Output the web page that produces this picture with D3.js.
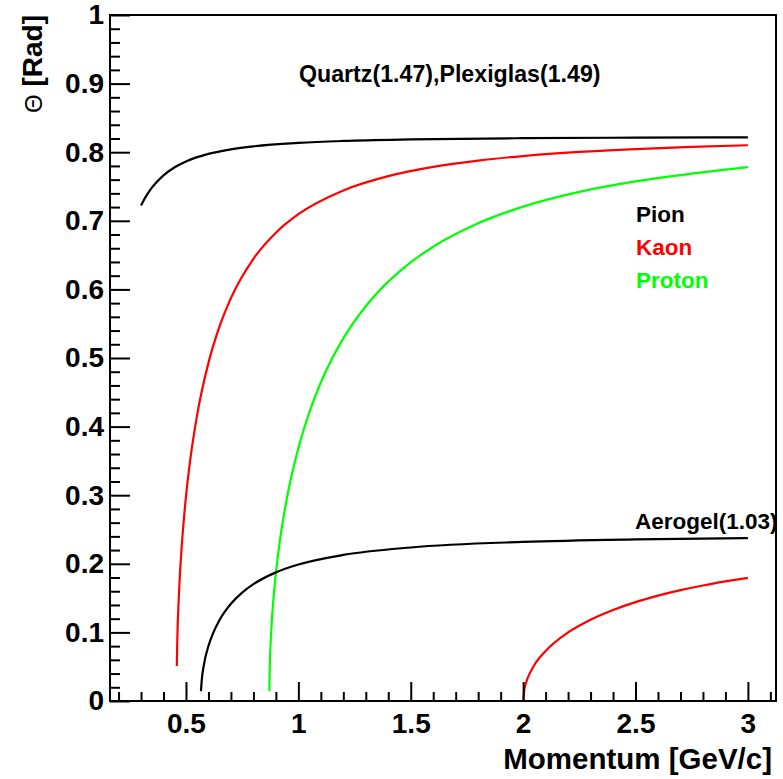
<!DOCTYPE html>
<html>
<head>
<meta charset="utf-8">
<script src="https://cdn.jsdelivr.net/npm/d3@7"></script>
<style>
  html, body { margin: 0; padding: 0; background: #fff; }
  svg { display: block; font-family: "Liberation Sans", Arial, Helvetica, sans-serif; font-weight: bold; }
</style>
</head>
<body>
<svg id="chart" width="783" height="779"></svg>
<script>
// Cherenkov angle (rad) versus momentum (GeV/c)
// Quartz / Plexiglas radiator (n ~ 1.47)
const pionQuartzP      = [0.3, 0.32, 0.35, 0.4, 0.45, 0.5, 0.6, 0.7, 0.8, 1.0, 1.2, 1.5, 2.0, 2.5, 3.0];
const pionQuartzTheta  = [0.7223, 0.7345, 0.7490, 0.7663, 0.7781, 0.7866, 0.7976, 0.8042, 0.8086, 0.8136, 0.8164, 0.8186, 0.8204, 0.8212, 0.8217];

const kaonQuartzP      = [0.4593, 0.46, 0.47, 0.48, 0.49, 0.5, 0.52, 0.55, 0.6, 0.65, 0.7, 0.8, 0.9, 1.0, 1.2, 1.4, 1.6, 1.8, 2.0, 2.25, 2.5, 2.75, 3.0];
const kaonQuartzTheta  = [0.0509, 0.0650, 0.1640, 0.2202, 0.2628, 0.2978, 0.3540, 0.4175, 0.4929, 0.5467, 0.5873, 0.6446, 0.6827, 0.7096, 0.7443, 0.7651, 0.7786, 0.7878, 0.7944, 0.8004, 0.8046, 0.8077, 0.8101];

const protonQuartzP     = [0.871, 0.872, 0.875, 0.88, 0.89, 0.9, 0.92, 0.95, 1.0, 1.05, 1.1, 1.2, 1.3, 1.4, 1.5, 1.6, 1.8, 2.0, 2.25, 2.5, 2.75, 3.0];
const protonQuartzTheta = [0.0146, 0.0380, 0.0716, 0.1058, 0.1519, 0.1862, 0.2387, 0.2973, 0.3686, 0.4219, 0.4643, 0.5286, 0.5755, 0.6113, 0.6395, 0.6622, 0.6964, 0.7206, 0.7421, 0.7574, 0.7688, 0.7782];

// Aerogel radiator (n = 1.03)
const pionAerogelP      = [0.5666, 0.57, 0.58, 0.6, 0.62, 0.65, 0.7, 0.75, 0.8, 0.9, 1.0, 1.2, 1.5, 2.0, 2.5, 3.0];
const pionAerogelTheta  = [0.0144, 0.0298, 0.0531, 0.0801, 0.0983, 0.1184, 0.1417, 0.1580, 0.1703, 0.1875, 0.1989, 0.2129, 0.2238, 0.2319, 0.2356, 0.2375];

const kaonAerogelP      = [2.0005, 2.005, 2.01, 2.02, 2.05, 2.1, 2.2, 2.3, 2.4, 2.5, 2.6, 2.7, 2.8, 2.9, 3.0];
const kaonAerogelTheta  = [0.0, 0.0161, 0.0233, 0.0332, 0.0524, 0.0729, 0.0999, 0.1185, 0.1327, 0.1442, 0.1536, 0.1616, 0.1684, 0.1743, 0.1796];

// Axis ticks
const xMajorTicks = [0.5, 1, 1.5, 2, 2.5, 3];
const xTickLabels = ["0.5", "1", "1.5", "2", "2.5", "3"];
const xMinorTicks = [0.2, 0.3, 0.4, 0.6, 0.7, 0.8, 0.9, 1.1, 1.2, 1.3, 1.4, 1.6, 1.7, 1.8, 1.9, 2.1, 2.2, 2.3, 2.4, 2.6, 2.7, 2.8, 2.9, 3.1];
const yMajorTicks = [0, 0.1, 0.2, 0.3, 0.4, 0.5, 0.6, 0.7, 0.8, 0.9, 1];
const yTickLabels = ["0", "0.1", "0.2", "0.3", "0.4", "0.5", "0.6", "0.7", "0.8", "0.9", "1"];
const yMinorTicks = [0.02, 0.04, 0.06, 0.08, 0.12, 0.14, 0.16, 0.18, 0.22, 0.24, 0.26, 0.28,
                     0.32, 0.34, 0.36, 0.38, 0.42, 0.44, 0.46, 0.48, 0.52, 0.54, 0.56, 0.58,
                     0.62, 0.64, 0.66, 0.68, 0.72, 0.74, 0.76, 0.78, 0.82, 0.84, 0.86, 0.88,
                     0.92, 0.94, 0.96, 0.98];

const curves = [
  { p: pionQuartzP,   t: pionQuartzTheta,   color: "#000000" },
  { p: kaonQuartzP,   t: kaonQuartzTheta,   color: "#ff0000" },
  { p: protonQuartzP, t: protonQuartzTheta, color: "#00ff00" },
  { p: pionAerogelP,  t: pionAerogelTheta,  color: "#000000" },
  { p: kaonAerogelP,  t: kaonAerogelTheta,  color: "#ff0000" }
];

const svg = d3.select("#chart");
const frame = { left: 110, right: 776, top: 15, bottom: 701 };

const x = d3.scaleLinear().domain([0.162, 3.125]).range([frame.left, frame.right]);
const y = d3.scaleLinear().domain([0, 1]).range([frame.bottom, frame.top]);

// Curves
const line = d3.line()
  .x(d => x(d[0]))
  .y(d => y(d[1]))
  .curve(d3.curveMonotoneX);

svg.append("g").selectAll("path")
  .data(curves)
  .join("path")
  .attr("d", c => line(c.p.map((p, i) => [p, c.t[i]])))
  .attr("fill", "none")
  .attr("stroke", c => c.color)
  .attr("stroke-width", 2.2);

// Axes with ticks pointing into the frame
function styleAxis(g) {
  g.select(".domain").remove();
  g.selectAll(".tick line").attr("stroke", "#000").attr("stroke-width", 2);
  g.selectAll(".tick text")
    .attr("fill", "#000")
    .style("font-family", "'Liberation Sans', Arial, Helvetica, sans-serif")
    .style("font-weight", "bold")
    .style("font-size", "28px");
}

svg.append("g")
  .attr("transform", `translate(0,${frame.bottom})`)
  .call(d3.axisBottom(x).tickValues(xMinorTicks).tickSize(-9).tickFormat(""))
  .call(styleAxis);

svg.append("g")
  .attr("transform", `translate(0,${frame.bottom})`)
  .call(d3.axisBottom(x).tickValues(xMajorTicks).tickSize(-19).tickPadding(12)
        .tickFormat((d, i) => xTickLabels[i]))
  .call(styleAxis);

svg.append("g")
  .attr("transform", `translate(${frame.left},0)`)
  .call(d3.axisLeft(y).tickValues(yMinorTicks).tickSize(-10).tickFormat(""))
  .call(styleAxis);

svg.append("g")
  .attr("transform", `translate(${frame.left},0)`)
  .call(d3.axisLeft(y).tickValues(yMajorTicks).tickSize(-20).tickPadding(6)
        .tickFormat((d, i) => yTickLabels[i]))
  .call(styleAxis);

// Frame
svg.append("rect")
  .attr("x", frame.left).attr("y", frame.top)
  .attr("width", frame.right - frame.left)
  .attr("height", frame.bottom - frame.top)
  .attr("fill", "none")
  .attr("stroke", "#000")
  .attr("stroke-width", 2);

// Axis titles
svg.append("text")
  .attr("x", 772).attr("y", 769)
  .attr("text-anchor", "end")
  .style("font-size", "29.5px")
  .text("Momentum [GeV/c]");

const yTitle = svg.append("text")
  .attr("transform", "translate(42,15) rotate(-90)")
  .attr("text-anchor", "end")
  .style("font-size", "28px");
yTitle.append("tspan").style("font-weight", "normal").style("font-size", "24px").text("Θ");
yTitle.append("tspan").text(" [Rad]");

// Annotations
svg.append("text")
  .attr("x", 299).attr("y", 82)
  .style("font-size", "23.2px")
  .text("Quartz(1.47),Plexiglas(1.49)");

const legendNames = ["Pion", "Kaon", "Proton"];
const legendColors = ["#000000", "#ff0000", "#00ff00"];
svg.append("g").selectAll("text")
  .data(legendNames)
  .join("text")
  .attr("x", 636)
  .attr("y", (d, i) => 222 + i * 33)
  .attr("fill", (d, i) => legendColors[i])
  .style("font-size", "22.5px")
  .text(d => d);

svg.append("text")
  .attr("x", 635).attr("y", 529)
  .style("font-size", "22.5px")
  .text("Aerogel(1.03)");
</script>
</body>
</html>
